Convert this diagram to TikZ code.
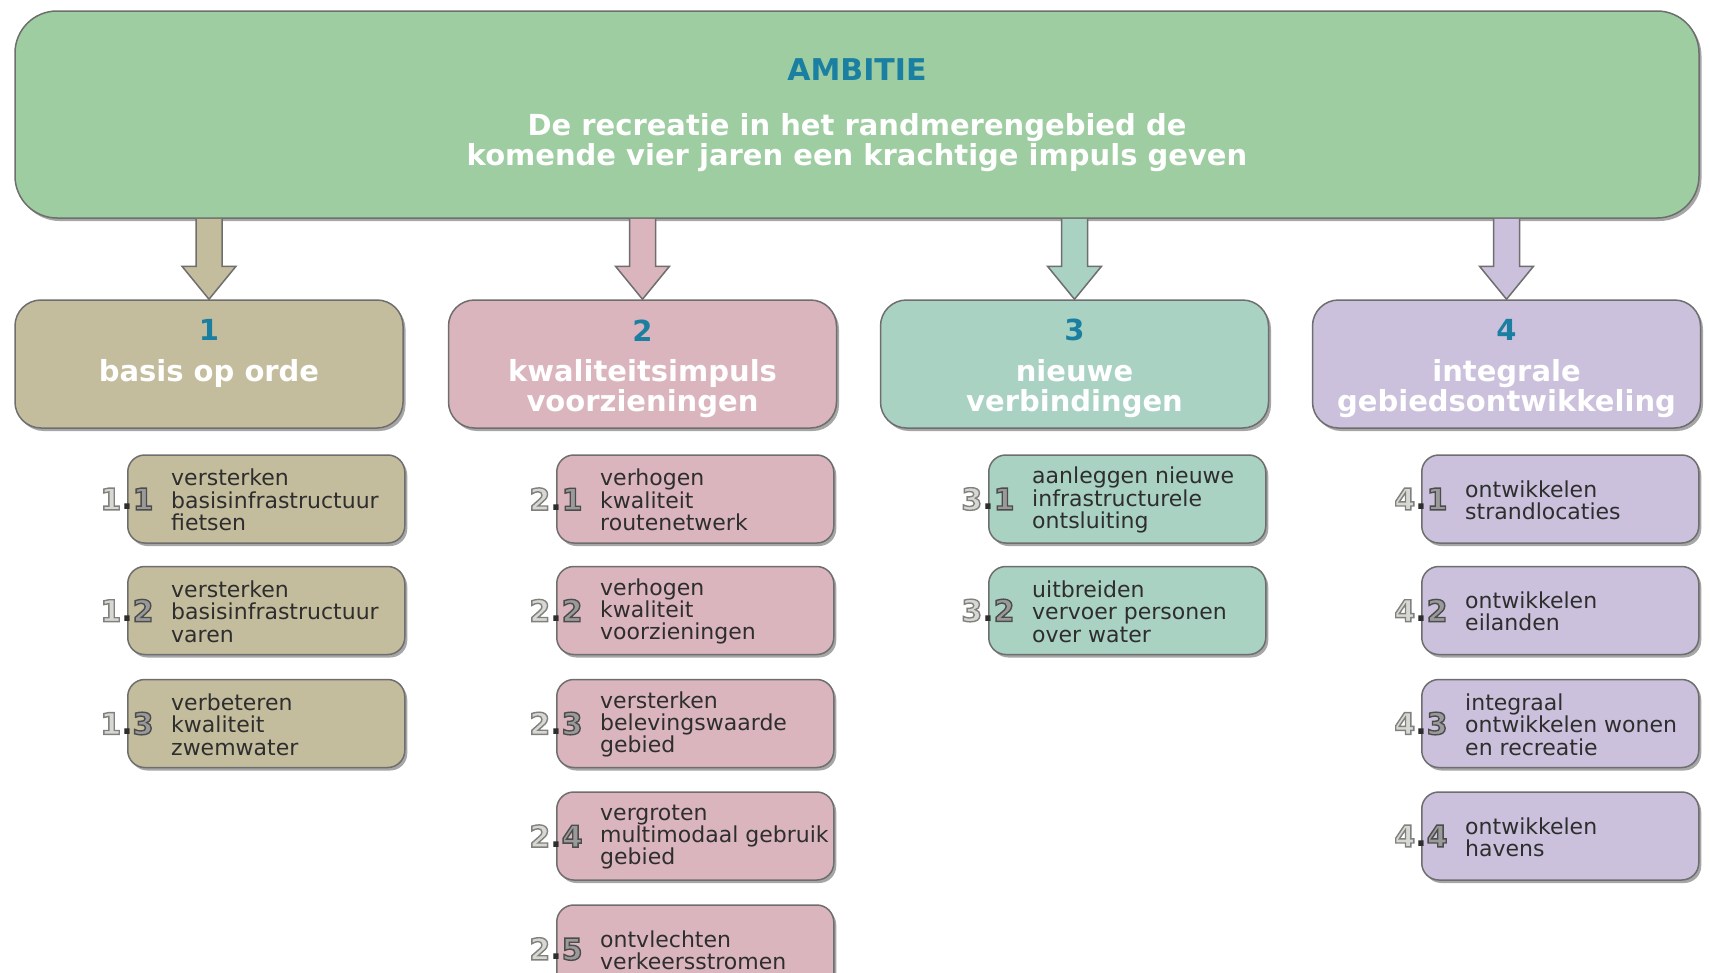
\documentclass[tikz,border=0pt]{standalone}
\usepackage{fontspec}
\setmainfont{DejaVu Sans}
\usetikzlibrary{shadows,calc}
\definecolor{ambgreen}{HTML}{9DCDA1}
\definecolor{c1col}{HTML}{C4BD9D}
\definecolor{c2col}{HTML}{DBB5BD}
\definecolor{c3col}{HTML}{A9D2C3}
\definecolor{c4col}{HTML}{CBC1DC}
\definecolor{numblue}{HTML}{1B7FA2}
\definecolor{edge}{HTML}{6E6E6E}
\definecolor{txtgray}{HTML}{2E2E2E}
\definecolor{lablight}{HTML}{D8D8D2}
\definecolor{labmid}{HTML}{9A9A9A}
\newcommand\outl[3]{{\color{#2}\special{pdf:literal 2 Tr 1.4 w #3 RG}#1\special{pdf:literal 0 Tr}}}
\newcommand\numlab[2]{\outl{#1}{lablight}{0.5 0.5 0.5}\textcolor{txtgray}{.}\outl{#2}{labmid}{0.3 0.3 0.3}}
\begin{document}
\begin{tikzpicture}[x=1pt,y=-1pt,
  shad/.style={drop shadow={shadow xshift=2.5pt,shadow yshift=-3pt,opacity=0.35,fill=black}},
  ambbox/.style={draw=edge,line width=1.5pt,fill=ambgreen,rounded corners=42pt,minimum width=1684pt,minimum height=207pt,shad},
  headbox/.style={draw=edge,line width=1.5pt,rounded corners=26pt,minimum width=388pt,minimum height=128pt,shad},
  subbox/.style={draw=edge,line width=1.5pt,rounded corners=17pt,minimum width=277pt,minimum height=88pt,anchor=west,shad},
  blockarr/.style={draw=edge,line width=1.5pt,line join=miter},
  maintxt/.style={font=\bfseries\fontsize{29}{30.5}\selectfont,text=white,align=center,inner sep=0pt},
  numtxt/.style={font=\bfseries\fontsize{29}{30.5}\selectfont,text=numblue,inner sep=0pt},
  titletxt/.style={font=\bfseries\fontsize{29}{30.5}\selectfont,text=white,align=center,inner sep=0pt,anchor=north},
  subtxt/.style={font=\fontsize{22}{22.3}\selectfont,text=txtgray,align=left,inner sep=0pt,anchor=west},
  lbl/.style={font=\bfseries\fontsize{30}{30}\selectfont,inner sep=0pt}
]
\useasboundingbox (0,0) rectangle (1710,972);
\fill[white] (0,0) rectangle (1710,972);

% main box
\node[ambbox] (amb) at (857,114.5) {};
\node[numtxt,font=\bfseries\fontsize{30}{32}\selectfont,anchor=base] (ambt) at (857,80) {AMBITIE};
\node[maintxt,anchor=north] (ambs) at (857,113) {De recreatie in het randmerengebied de\\komende vier jaren een krachtige impuls geven};

% level 1 boxes
\node[headbox,fill=c1col] (h1) at (209,364) {};
\node[headbox,fill=c2col] (h2) at (642.5,364) {};
\node[headbox,fill=c3col] (h3) at (1074.5,364) {};
\node[headbox,fill=c4col] (h4) at (1506.5,364) {};

\foreach \i/\c in {1/c1col,2/c2col,3/c3col,4/c4col}{
  \draw[blockarr,fill=\c] ($(amb.south -| h\i.north)+(-13,0)$) -- ($(h\i.north)+(-13,-33)$) -- ($(h\i.north)+(-27,-33)$) -- (h\i.north) -- ($(h\i.north)+(27,-33)$) -- ($(h\i.north)+(13,-33)$) -- ($(amb.south -| h\i.north)+(13,0)$);
}

\node[numtxt] (n1) at ($(h1.north)+(0,31)$) {1};
\node[numtxt] (n2) at ($(h2.north)+(0,31)$) {2};
\node[numtxt] (n3) at ($(h3.north)+(0,31)$) {3};
\node[numtxt] (n4) at ($(h4.north)+(0,31)$) {4};
\node[titletxt] (t1) at ($(h1.north)+(0,60)$) {basis op orde};
\node[titletxt] (t2) at ($(h2.north)+(0,60)$) {kwaliteitsimpuls\\voorzieningen};
\node[titletxt] (t3) at ($(h3.north)+(0,60)$) {nieuwe\\verbindingen};
\node[titletxt] (t4) at ($(h4.north)+(0,60)$) {integrale\\gebiedsontwikkeling};

% column 1
\node[subbox,fill=c1col] (s11) at (127,499) {};
\node[subbox,fill=c1col] (s12) at (127,610.5) {};
\node[subbox,fill=c1col] (s13) at (127,723.5) {};
\node[subtxt] (x11) at ($(s11.west)+(44,1)$) {versterken\\basisinfrastructuur\\fietsen};
\node[subtxt] (x12) at ($(s12.west)+(44,1)$) {versterken\\basisinfrastructuur\\varen};
\node[subtxt] (x13) at ($(s13.west)+(44,1)$) {verbeteren\\kwaliteit\\zwemwater};
\node[lbl] (l11) at (s11.west) {\numlab{1}{1}};
\node[lbl] (l12) at (s12.west) {\numlab{1}{2}};
\node[lbl] (l13) at (s13.west) {\numlab{1}{3}};

% column 2
\node[subbox,fill=c2col] (s21) at (556,499) {};
\node[subbox,fill=c2col] (s22) at (556,610.5) {};
\node[subbox,fill=c2col] (s23) at (556,723.5) {};
\node[subbox,fill=c2col] (s24) at (556,836) {};
\node[subbox,fill=c2col] (s25) at (556,949) {};
\node[subtxt] (x21) at ($(s21.west)+(44,1)$) {verhogen\\kwaliteit\\routenetwerk};
\node[subtxt] (x22) at ($(s22.west)+(44,1)$) {verhogen\\kwaliteit\\voorzieningen};
\node[subtxt] (x23) at ($(s23.west)+(44,1)$) {versterken\\belevingswaarde\\gebied};
\node[subtxt] (x24) at ($(s24.west)+(44,1)$) {vergroten\\multimodaal gebruik\\gebied};
\node[subtxt] (x25) at ($(s25.west)+(44,1)$) {ontvlechten\\verkeersstromen};
\node[lbl] (l21) at (s21.west) {\numlab{2}{1}};
\node[lbl] (l22) at (s22.west) {\numlab{2}{2}};
\node[lbl] (l23) at (s23.west) {\numlab{2}{3}};
\node[lbl] (l24) at (s24.west) {\numlab{2}{4}};
\node[lbl] (l25) at (s25.west) {\numlab{2}{5}};

% column 3
\node[subbox,fill=c3col] (s31) at (988,499) {};
\node[subbox,fill=c3col] (s32) at (988,610.5) {};
\node[subtxt] (x31) at ($(s31.west)+(44,1)$) {aanleggen nieuwe\\infrastructurele\\ontsluiting};
\node[subtxt] (x32) at ($(s32.west)+(44,1)$) {uitbreiden\\vervoer personen\\over water};
\node[lbl] (l31) at (s31.west) {\numlab{3}{1}};
\node[lbl] (l32) at (s32.west) {\numlab{3}{2}};

% column 4
\node[subbox,fill=c4col] (s41) at (1421,499) {};
\node[subbox,fill=c4col] (s42) at (1421,610.5) {};
\node[subbox,fill=c4col] (s43) at (1421,723.5) {};
\node[subbox,fill=c4col] (s44) at (1421,836) {};
\node[subtxt] (x41) at ($(s41.west)+(44,1)$) {ontwikkelen\\strandlocaties};
\node[subtxt] (x42) at ($(s42.west)+(44,1)$) {ontwikkelen\\eilanden};
\node[subtxt] (x43) at ($(s43.west)+(44,1)$) {integraal\\ontwikkelen wonen\\en recreatie};
\node[subtxt] (x44) at ($(s44.west)+(44,1)$) {ontwikkelen\\havens};
\node[lbl] (l41) at (s41.west) {\numlab{4}{1}};
\node[lbl] (l42) at (s42.west) {\numlab{4}{2}};
\node[lbl] (l43) at (s43.west) {\numlab{4}{3}};
\node[lbl] (l44) at (s44.west) {\numlab{4}{4}};
\end{tikzpicture}
\end{document}
